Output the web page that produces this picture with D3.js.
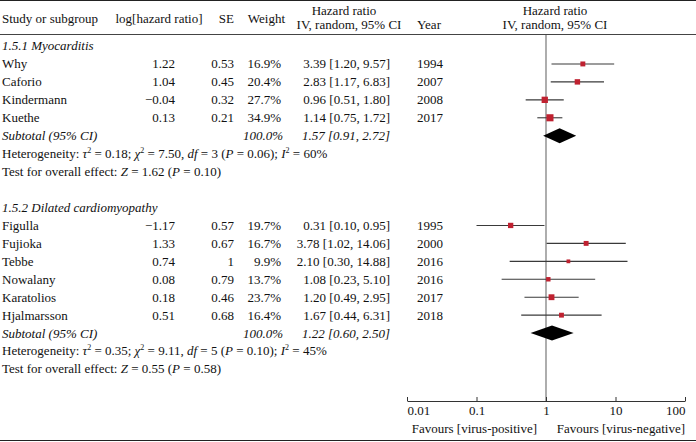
<!DOCTYPE html>
<html><head><meta charset="utf-8">
<script src="https://cdn.jsdelivr.net/npm/d3@7"></script>
<style>
body{margin:0;background:#fff;}
svg text{font-family:"Liberation Serif","Times New Roman",serif;font-size:13px;fill:#111;}
</style></head>
<body><svg id="c" width="696" height="442"></svg>
<script>
// ---- data ----
const g1Name = "1.5.1 Myocarditis";
const g1Studies = ["Why","Caforio","Kindermann","Kuethe"];
const g1LogHR = [1.22,1.04,-0.04,0.13];
const g1SE = [0.53,0.45,0.32,0.21];
const g1Weight = [16.9,20.4,27.7,34.9];
const g1HR = [3.39,2.83,0.96,1.14];
const g1Lo = [1.20,1.17,0.51,0.75];
const g1Hi = [9.57,6.83,1.80,1.72];
const g1Year = [1994,2007,2008,2017];
const g1Sub = [1.57,0.91,2.72];
const g1Het = {tau2:"0.18",chi2:"7.50",df:"3",p:"0.06",i2:"60%"};
const g1Test = {z:"1.62",p:"0.10"};

const g2Name = "1.5.2 Dilated cardiomyopathy";
const g2Studies = ["Figulla","Fujioka","Tebbe","Nowalany","Karatolios","Hjalmarsson"];
const g2LogHR = [-1.17,1.33,0.74,0.08,0.18,0.51];
const g2SE = [0.57,0.67,1,0.79,0.46,0.68];
const g2Weight = [19.7,16.7,9.9,13.7,23.7,16.4];
const g2HR = [0.31,3.78,2.10,1.08,1.20,1.67];
const g2Lo = [0.10,1.02,0.30,0.23,0.49,0.44];
const g2Hi = [0.95,14.06,14.88,5.10,2.95,6.31];
const g2Year = [1995,2000,2016,2016,2017,2018];
const g2Sub = [1.22,0.60,2.50];
const g2Het = {tau2:"0.35",chi2:"9.11",df:"5",p:"0.10",i2:"45%"};
const g2Test = {z:"0.55",p:"0.58"};

const axisTicks = [0.01,0.1,1,10,100];
const axisTickLabels = ["0.01","0.1","1","10","100"];
const favoursLeft = "Favours [virus-positive]";
const favoursRight = "Favours [virus-negative]";

// ---- drawing ----
const svg = d3.select("#c");
const W = 696, H = 442;
const x = d3.scaleLog().domain([0.01,100]).range([407,685]);
const y = d3.scaleLinear().domain([0,18]).range([46,369]);
const fmt2 = d3.format(".2f"), fmt1 = d3.format(".1f");
const lineCol = "#3a3a3a", red = "#bf2130";

// frame lines
svg.append("line").attr("x1",0).attr("x2",W).attr("y1",0.5).attr("y2",0.5).attr("stroke","#222").attr("stroke-width",1.2);
svg.append("line").attr("x1",0).attr("x2",W).attr("y1",34.5).attr("y2",34.5).attr("stroke","#444");
svg.append("line").attr("x1",0).attr("x2",W).attr("y1",440.5).attr("y2",440.5).attr("stroke","#222").attr("stroke-width",1.2);

// header
const hdr = svg.append("g");
hdr.append("text").attr("x",2).attr("y",22.5).text("Study or subgroup");
hdr.append("text").attr("x",159).attr("y",22.5).attr("text-anchor","middle").text("log[hazard ratio]");
hdr.append("text").attr("x",234).attr("y",22.5).attr("text-anchor","end").text("SE");
hdr.append("text").attr("x",285).attr("y",22.5).attr("text-anchor","end").text("Weight");
hdr.append("text").attr("x",344).attr("y",14.5).attr("text-anchor","middle").text("Hazard ratio");
hdr.append("text").attr("x",349).attr("y",29).attr("text-anchor","middle").text("IV, random, 95% CI");
hdr.append("text").attr("x",417).attr("y",29).text("Year");
hdr.append("text").attr("x",555).attr("y",14.5).attr("text-anchor","middle").text("Hazard ratio");
hdr.append("text").attr("x",555).attr("y",29).attr("text-anchor","middle").text("IV, random, 95% CI");

// null line
svg.append("line").attr("x1",x(1)).attr("x2",x(1)).attr("y1",35).attr("y2",401).attr("stroke","#777").attr("stroke-width",1.2);

const dy = 4.4;
function drawGroup(startRow, name, studies, lhr, se, wt, hr, lo, hi, yr, sub, het, test){
  const g = svg.append("g");
  g.append("text").attr("x",2).attr("y",y(startRow)+dy).attr("font-style","italic").text(name);
  studies.forEach((s,i)=>{
    const yy = y(startRow+1+i);
    g.append("text").attr("x",2).attr("y",yy+dy).text(s);
    g.append("text").attr("x",175).attr("y",yy+dy).attr("text-anchor","end").text(fmt2(lhr[i]));
    g.append("text").attr("x",234).attr("y",yy+dy).attr("text-anchor","end").text(String(se[i]));
    g.append("text").attr("x",281).attr("y",yy+dy).attr("text-anchor","end").text(fmt1(wt[i])+"%");
    g.append("text").attr("x",390).attr("y",yy+dy).attr("text-anchor","end").text(`${fmt2(hr[i])} [${fmt2(lo[i])}, ${fmt2(hi[i])}]`);
    g.append("text").attr("x",417).attr("y",yy+dy).text(yr[i]);
    g.append("line").attr("x1",x(lo[i])).attr("x2",x(hi[i])).attr("y1",yy).attr("y2",yy).attr("stroke",lineCol).attr("stroke-width",1.1);
    const sz = 1.2*Math.sqrt(wt[i]);
    g.append("rect").attr("x",x(hr[i])-sz/2).attr("y",yy-sz/2).attr("width",sz).attr("height",sz).attr("fill",red);
  });
  const sr = startRow+1+studies.length;
  const ys = y(sr);
  g.append("text").attr("x",2).attr("y",ys+dy).attr("font-style","italic").text("Subtotal (95% CI)");
  g.append("text").attr("x",283).attr("y",ys+dy).attr("text-anchor","end").attr("font-style","italic").text("100.0%");
  g.append("text").attr("x",390).attr("y",ys+dy).attr("text-anchor","end").attr("font-style","italic").text(`${fmt2(sub[0])} [${fmt2(sub[1])}, ${fmt2(sub[2])}]`);
  const h = 7.5;
  g.append("path").attr("d",`M${x(sub[1])},${ys} L${x(sub[0])},${ys-h} L${x(sub[2])},${ys} L${x(sub[0])},${ys+h} Z`).attr("fill","#000");
  // heterogeneity
  const t1 = g.append("text").attr("x",2).attr("y",y(sr+1)+dy);
  const parts = [
    ["Heterogeneity: ",null],["τ","i"],["2","sup"],[" = "+het.tau2+"; ",null],["χ","i"],["2","sup"],[" = "+het.chi2+", ",null],
    ["df","i"],[" = "+het.df+" (",null],["P","i"],[" = "+het.p+"); ",null],["I","i"],["2","sup"],[" = "+het.i2,null]
  ];
  addParts(t1, parts);
  const t2 = g.append("text").attr("x",2).attr("y",y(sr+2)+dy);
  addParts(t2, [["Test for overall effect: ",null],["Z","i"],[" = "+test.z+" (",null],["P","i"],[" = "+test.p+")",null]]);
}
function addParts(t, parts){
  let up = false;
  parts.forEach(([s,k])=>{
    const ts = t.append("tspan").text(s);
    if(k==="i") ts.attr("font-style","italic");
    if(k==="sup"){ ts.attr("font-size","8px").attr("dy",-5); up=true; }
    else if(up){ ts.attr("dy",5); up=false; }
  });
}
drawGroup(0, g1Name, g1Studies, g1LogHR, g1SE, g1Weight, g1HR, g1Lo, g1Hi, g1Year, g1Sub, g1Het, g1Test);
drawGroup(9, g2Name, g2Studies, g2LogHR, g2SE, g2Weight, g2HR, g2Lo, g2Hi, g2Year, g2Sub, g2Het, g2Test);

// axis
const ax = svg.append("g").attr("transform","translate(0,401)")
  .call(d3.axisBottom(x).tickValues(axisTicks).tickFormat((d,i)=>axisTickLabels[i]).tickSizeInner(-4).tickSizeOuter(0).tickPadding(5));
ax.select(".domain").attr("stroke","#333");
ax.selectAll(".tick line").attr("stroke","#333");
ax.selectAll(".tick text").attr("fill","#111").style("font-family",'"Liberation Serif","Times New Roman",serif').style("font-size","13px")
  .attr("text-anchor",(d,i)=> i===0?"start":(i===axisTicks.length-1?"end":"middle"));
svg.append("text").attr("x",537).attr("y",433).attr("text-anchor","end").text(favoursLeft);
svg.append("text").attr("x",685).attr("y",433).attr("text-anchor","end").text(favoursRight);
</script></body></html>
